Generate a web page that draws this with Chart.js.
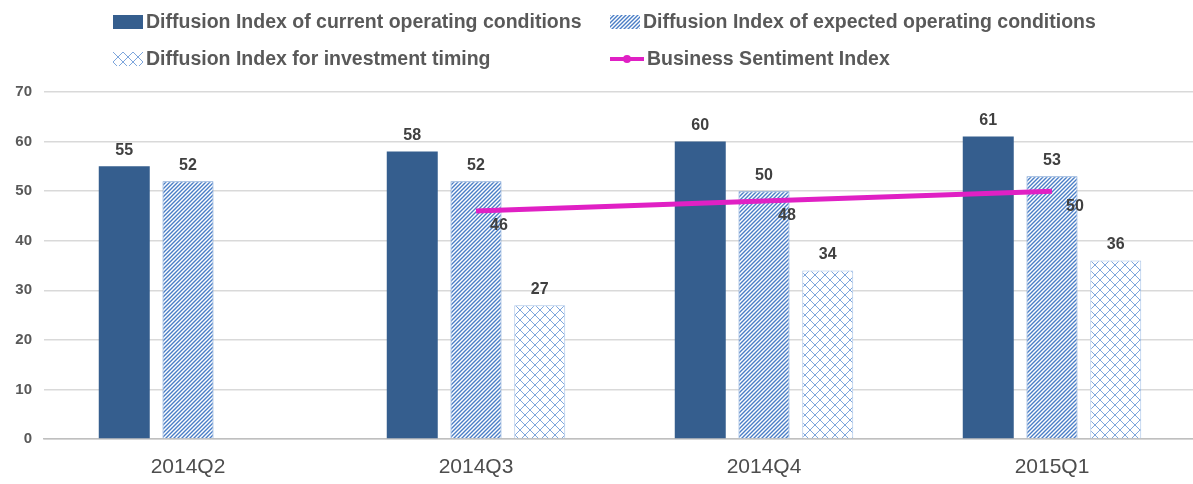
<!DOCTYPE html>
<html lang="en">
<head>
  <meta charset="UTF-8">
  <title>Diffusion indexes</title>
  <style>
    html, body { margin: 0; padding: 0; background: #fff; overflow: hidden; }
    #wrap { position: relative; width: 1196px; height: 484px; }
    #legend { position: absolute; left: 113px; top: 8px; display: grid; grid-template-columns: 497px auto; row-gap: 10px;
      font: bold 19.5px "Liberation Sans", Arial, sans-serif; color: #595959; }
    .item { display: flex; align-items: center; height: 27px; white-space: nowrap; }
    .item canvas { margin-right: 3px; }
  </style>
</head>
<body>
  <div id="wrap">
    <canvas id="myChart" width="1196" height="484"></canvas>
    <div id="legend"></div>
  </div>

  <script src="https://cdn.jsdelivr.net/npm/chart.js"></script>
  <script>
    const quarters = ['2014Q2', '2014Q3', '2014Q4', '2015Q1'];
    const currentDI = [55, 58, 60, 61];
    const expectedDI = [52, 52, 50, 53];
    const investmentDI = [null, 27, 34, 36];
    const sentimentIdx = [null, 46, 48, 50];
    const seriesNames = [
      'Diffusion Index of current operating conditions',
      'Diffusion Index of expected operating conditions',
      'Diffusion Index for investment timing',
      'Business Sentiment Index'
    ];

    // pattern fills
    function stripes() {
      const c = document.createElement('canvas');
      c.width = 4; c.height = 4;
      const g = c.getContext('2d');
      g.fillStyle = '#fff'; g.fillRect(0, 0, 4, 4);
      g.strokeStyle = '#4a7ec6'; g.lineWidth = 1.4;
      g.beginPath();
      g.moveTo(-1, 5); g.lineTo(5, -1);
      g.moveTo(-1, 1); g.lineTo(1, -1);
      g.moveTo(3, 5); g.lineTo(5, 3);
      g.stroke();
      return g.createPattern(c, 'repeat');
    }
    function lattice() {
      const c = document.createElement('canvas');
      c.width = 10; c.height = 10;
      const g = c.getContext('2d');
      g.fillStyle = '#fff'; g.fillRect(0, 0, 10, 10);
      g.strokeStyle = '#7ea6dc'; g.lineWidth = 1;
      g.beginPath();
      g.moveTo(0, 0); g.lineTo(10, 10);
      g.moveTo(10, 0); g.lineTo(0, 10);
      g.stroke();
      return g.createPattern(c, 'repeat');
    }
    const navy = '#355e8e';
    const pink = '#e020c4';
    const fills = [navy, stripes(), lattice()];

    const valueLabels = {
      id: 'valueLabels',
      afterDatasetsDraw(chart) {
        const ctx = chart.ctx;
        ctx.save();
        ctx.font = 'bold 16px "Liberation Sans", Arial, sans-serif';
        ctx.fillStyle = '#404040';
        ctx.textAlign = 'center';
        chart.data.datasets.forEach((ds, i) => {
          const meta = chart.getDatasetMeta(i);
          meta.data.forEach((el, j) => {
            const v = ds.data[j];
            if (v == null) return;
            if (meta.type === 'bar') {
              ctx.textBaseline = 'bottom';
              ctx.fillText(v, el.x, el.y - 8);
            } else {
              ctx.textBaseline = 'middle';
              ctx.fillText(v, el.x + 23, el.y + 15);
            }
          });
        });
        ctx.restore();
      }
    };

    const data = {
      labels: quarters,
      datasets: [
        { type: 'line', label: seriesNames[3], data: sentimentIdx, borderColor: pink, backgroundColor: pink,
          borderWidth: 5, pointRadius: 0, order: -1, spanGaps: false },
        { label: seriesNames[0], data: currentDI, backgroundColor: fills[0], borderColor: fills[0], borderWidth: 0 },
        { label: seriesNames[1], data: expectedDI, backgroundColor: fills[1], borderColor: '#6e98d2', borderWidth: 1 },
        { label: seriesNames[2], data: investmentDI, backgroundColor: fills[2], borderColor: '#a9c4e8', borderWidth: 1 }
      ]
    };

    const config = {
      type: 'bar',
      data,
      options: {
        responsive: false,
        animation: false,
        layout: { padding: { top: 92, bottom: 0, left: 0, right: 0 } },
        datasets: { bar: { categoryPercentage: 0.664, barPercentage: 0.8 } },
        plugins: { legend: { display: false }, tooltip: { enabled: false } },
        scales: {
          x: {
            afterFit(scale) { scale.height = 45; },
            grid: { display: false, drawTicks: false },
            border: { display: true, color: '#bfbfbf', width: 1.5 },
            ticks: { padding: 16, color: '#4d4d4d', font: { family: '"Liberation Sans", Arial, sans-serif', size: 21 } }
          },
          y: {
            min: 0, max: 70,
            afterFit(scale) { scale.width = 44; },
            grid: { color: '#d9d9d9', lineWidth: 1.5, drawTicks: false },
            border: { display: false },
            ticks: { stepSize: 10, padding: 12, color: '#595959', font: { family: '"Liberation Sans", Arial, sans-serif', size: 15, weight: 'bold' } }
          }
        }
      },
      plugins: [valueLabels]
    };

    const myChart = new Chart(document.getElementById('myChart'), config);

    // html legend, two fixed columns like the original
    const legendOrder = [1, 2, 3, 0];
    const legendBox = document.getElementById('legend');
    legendOrder.forEach(i => {
      const ds = data.datasets[i];
      const item = document.createElement('div');
      item.className = 'item';
      const sw = document.createElement('canvas');
      const g = sw.getContext('2d');
      if (ds.type === 'line') {
        sw.width = 34; sw.height = 14;
        g.strokeStyle = pink; g.lineWidth = 4;
        g.beginPath(); g.moveTo(0, 7); g.lineTo(34, 7); g.stroke();
        g.fillStyle = pink; g.beginPath(); g.arc(17, 7, 4, 0, Math.PI * 2); g.fill();
      } else {
        sw.width = 30; sw.height = 14;
        g.fillStyle = ds.backgroundColor;
        g.fillRect(0, 0, 30, 14);
      }
      item.appendChild(sw);
      const t = document.createElement('span');
      t.textContent = ds.label;
      item.appendChild(t);
      legendBox.appendChild(item);
    });
  </script>
</body>
</html>
